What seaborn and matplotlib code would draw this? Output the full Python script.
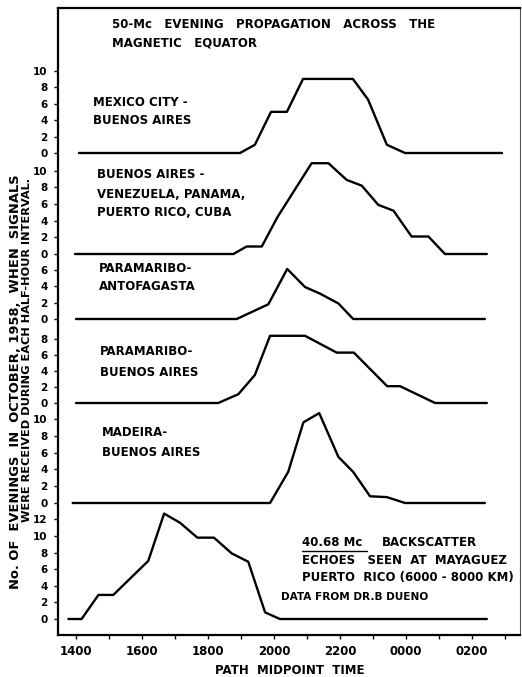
import matplotlib
matplotlib.use("Agg")
import matplotlib.pyplot as plt
import seaborn as sns
import pandas as pd

# ---------------- data ----------------
# time in hours (14 = 1400, 24 = 0000, 26 = 0200), value = number of evenings
mexico_t = [14.09, 18.97, 19.42, 19.91, 20.39, 20.88, 22.39, 22.85, 23.42, 23.97, 26.91]
mexico_v = [0, 0, 1, 5, 5, 9, 9, 6.5, 1, 0, 0]

baires_t = [13.97, 18.77, 19.17, 19.63, 20.10, 21.14, 21.65, 22.20, 22.66, 23.16, 23.62,
            24.17, 24.68, 25.18, 26.45]
baires_v = [0, 0, 0.9, 0.9, 4.4, 10.9, 10.9, 8.9, 8.2, 5.9, 5.2, 2.1, 2.1, 0, 0]

antof_t = [14.0, 18.87, 19.83, 20.40, 20.94, 21.39, 21.95, 22.40, 26.39]
antof_v = [0, 0, 1.8, 6.1, 3.9, 3.1, 1.9, 0, 0]

parba_t = [14.0, 18.31, 18.92, 19.42, 19.88, 20.94, 21.90, 22.42, 23.43, 23.82, 24.88, 26.45]
parba_v = [0, 0, 1.1, 3.5, 8.4, 8.4, 6.3, 6.3, 2.1, 2.1, 0, 0]

madeira_t = [13.9, 19.88, 20.43, 20.89, 21.37, 21.95, 22.40, 22.91, 23.42, 23.97, 26.39]
madeira_v = [0, 0, 3.7, 9.6, 10.7, 5.5, 3.7, 0.8, 0.7, 0, 0]

backsc_t = [13.77, 14.17, 14.68, 15.13, 16.19, 16.67, 17.15, 17.68, 18.18, 18.72, 19.22,
            19.73, 20.18, 26.45]
backsc_v = [0, 0, 2.9, 2.9, 7.0, 12.7, 11.6, 9.8, 9.8, 7.9, 6.9, 0.8, 0, 0]

panel_labels = [
    ["MEXICO CITY -", "BUENOS AIRES"],
    ["BUENOS AIRES -", "VENEZUELA, PANAMA,", "PUERTO RICO, CUBA"],
    ["PARAMARIBO-", "ANTOFAGASTA"],
    ["PARAMARIBO-", "BUENOS AIRES"],
    ["MADEIRA-", "BUENOS AIRES"],
]
panel_tops = [10, 10, 6, 8, 10, 12]

x_ticks = list(range(14, 28))
x_labels = {14: "1400", 16: "1600", 18: "1800", 20: "2000", 22: "2200", 24: "0000", 26: "0200"}

title_lines = ["50-Mc   EVENING   PROPAGATION   ACROSS   THE", "MAGNETIC   EQUATOR"]
ylabel_lines = ["No. OF  EVENINGS  IN  OCTOBER, 1958,  WHEN  SIGNALS",
                "WERE RECEIVED DURING EACH HALF-HOUR INTERVAL."]
xlabel = "PATH  MIDPOINT  TIME"
note_lines = ["ECHOES   SEEN  AT  MAYAGUEZ", "PUERTO  RICO (6000 - 8000 KM)", "DATA FROM DR.B DUENO"]
note_head = ["40.68 Mc", "BACKSCATTER"]

# ---------------- layout ----------------
W, H = 522, 677
sns.set_style("white")
plt.rcParams["font.family"] = ["DejaVu Sans"]
plt.rcParams["font.weight"] = "bold"
for key in ["text.color", "xtick.color", "ytick.color", "axes.labelcolor", "axes.edgecolor"]:
    plt.rcParams[key] = "black"

fig = plt.figure(figsize=(W / 100, H / 100), dpi=100)
fig.patch.set_facecolor("white")

def fx(px):
    return px / W

def fy(py):
    return 1 - py / H

L, R, T, B = 58, 520, 8, 635
X0, PXH = 76.0, 33.0          # pixel of 1400 and pixels per hour
xlim = (14 + (L - X0) / PXH, 14 + (R - X0) / PXH)

frame = fig.add_axes([fx(L), fy(B), (R - L) / W, (B - T) / H])
frame.set_facecolor("white")
frame.set_xlim(*xlim)
frame.set_ylim(0, 1)
frame.set_yticks([])
frame.set_xticks(x_ticks)
frame.set_xticklabels([x_labels.get(t, "") for t in x_ticks], fontsize=8.5, fontweight="bold",
                       color="black")
frame.tick_params(axis="x", direction="out", length=3, width=1, pad=4, bottom=True,
                  colors="black")
for side, sp in frame.spines.items():
    sp.set_visible(True)
    sp.set_color("black")
    sp.set_linewidth(1.6)
frame.spines["right"].set_linewidth(0.8)
frame.spines["right"].set_color("#555555")

# panel geometry: pixel of value 0, pixels per unit
bases = [153, 254, 319, 403, 503, 619]
scales = [8.23, 8.33, 8.2, 8.0, 8.4, 8.3]

series = [(mexico_t, mexico_v), (baires_t, baires_v), (antof_t, antof_v),
          (parba_t, parba_v), (madeira_t, madeira_v), (backsc_t, backsc_v)]

for i, ((t, v), top) in enumerate(zip(series, panel_tops)):
    base, s = bases[i], scales[i]
    lo, hi = -1.5, top + 1.5
    pb = base - lo * s
    pt = base - hi * s
    ax = fig.add_axes([fx(L), fy(pb), (R - L) / W, (pb - pt) / H])
    ax.patch.set_alpha(0)
    df = pd.DataFrame({"time": t, "count": v})
    sns.lineplot(data=df, x="time", y="count", ax=ax, color="black", linewidth=1.7,
                 estimator=None, sort=False)
    ax.set_xlim(*xlim)
    ax.set_ylim(lo, hi)
    ax.set_xticks([])
    ticks = list(range(0, top + 1, 2))
    ax.set_yticks(ticks)
    ax.set_yticklabels([str(k) for k in ticks], fontsize=7.5, fontweight="bold", color="black")
    ax.tick_params(axis="y", direction="out", length=3, width=1, pad=4.5, left=True,
                   colors="black")
    ax.set_xlabel("")
    ax.set_ylabel("")
    for sp in ax.spines.values():
        sp.set_visible(False)

# panel labels
label_pos = [(93, [103, 121]), (97, [175, 194, 213]), (99, [269, 287]),
             (100, [352, 372]), (102, [432, 452])]
for lines, (px, pys) in zip(panel_labels, label_pos):
    for line, py in zip(lines, pys):
        fig.text(fx(px), fy(py), line, fontsize=8.5, fontweight="bold",
                 ha="left", va="center", color="black")

# title
for line, py in zip(title_lines, [25, 43]):
    fig.text(fx(112), fy(py), line, fontsize=8.5, fontweight="bold", ha="left", va="center",
             color="black")

# backscatter note
fig.text(fx(302), fy(543), note_head[0], fontsize=8.5, fontweight="bold", ha="left",
         va="center", color="black")
fig.text(fx(382), fy(543), note_head[1], fontsize=8.5, fontweight="bold", ha="left",
         va="center", color="black")
fig.add_artist(plt.Line2D([fx(302), fx(367)], [fy(551), fy(551)], color="black", linewidth=1))
for line, (px, py), fs in zip(note_lines, [(302, 561), (302, 578), (281, 597)], [8.5, 8.5, 7.6]):
    fig.text(fx(px), fy(py), line, fontsize=fs, fontweight="bold", ha="left", va="center",
             color="black")

# axis titles
fig.text(fx(290), fy(670), xlabel, fontsize=8.5, fontweight="bold", ha="center", va="center",
         color="black")
fig.text(fx(16), fy(174), ylabel_lines[0], fontsize=9.4, fontweight="bold",
         rotation=90, ha="center", va="top", color="black")
fig.text(fx(27.5), fy(178), ylabel_lines[1], fontsize=8.2, fontweight="bold",
         rotation=90, ha="center", va="top", color="black")

fig.savefig("out.png", dpi=100, facecolor="white")
